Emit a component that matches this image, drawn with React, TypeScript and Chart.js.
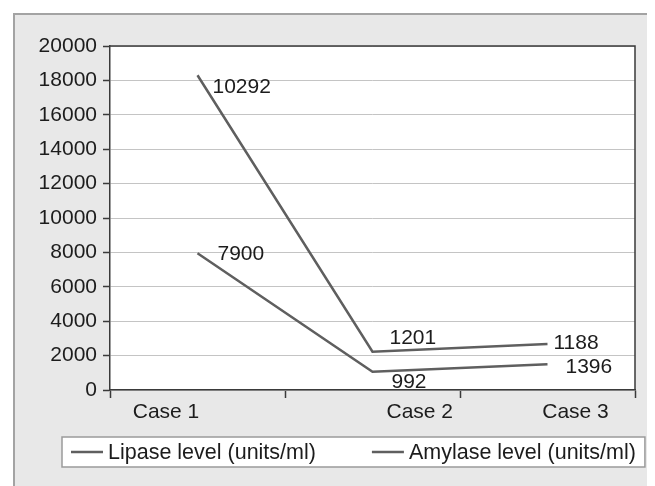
import React, { useEffect, useRef } from 'react';
import { Chart, registerables } from 'chart.js';

Chart.register(...registerables);

// ---- data ----
const categories = ['Case 1', 'Case 2', 'Case 3'];
const seriesNames = ['Lipase level (units/ml)', 'Amylase level (units/ml)'];
const lipaseLevels = [18300, 2230, 2670];
const amylaseLevels = [7950, 1060, 1490];
const lipaseLabels = ['10292', '1201', '1188'];
const amylaseLabels = ['7900', '992', '1396'];
const yMin = 0;
const yMax = 20000;
const yStep = 2000;

// ---- layout / style constants ----
const FONT = '"Liberation Sans", Arial, Helvetica, sans-serif';
const FS = 21;
const LEGEND_FS = 21.5;
const TEXT = '#1c1c1c';
const LINE = '#5f5f5f';
const DARK = '#3a3a3a';
const caseLabelAt = [-0.18, 1.27, 2.16];
const labelShift = [
  [[15, 12], [17, -13], [6, -1]],
  [[20, 1], [19, 10], [18, 3]],
];

const bgPlugin = {
  id: 'bgPlugin',
  beforeDraw(chart: any) {
    const { ctx, chartArea: a, width, height } = chart;
    ctx.save();
    ctx.fillStyle = '#e8e8e8';
    ctx.fillRect(5, 5, width, height);
    ctx.strokeStyle = '#a3a3a3';
    ctx.lineWidth = 2;
    ctx.beginPath();
    ctx.moveTo(6, height + 5);
    ctx.lineTo(6, 6);
    ctx.lineTo(width + 5, 6);
    ctx.stroke();
    ctx.fillStyle = '#ffffff';
    ctx.fillRect(a.left, a.top, a.right - a.left, a.bottom - a.top);
    ctx.restore();
  },
  afterDraw(chart: any) {
    const { ctx, chartArea: a } = chart;
    ctx.save();
    // plot frame top/right
    ctx.strokeStyle = DARK;
    ctx.lineWidth = 1.5;
    ctx.beginPath();
    ctx.moveTo(a.left, a.top);
    ctx.lineTo(a.right, a.top);
    ctx.lineTo(a.right, a.bottom);
    ctx.stroke();

    // data labels
    ctx.font = `${FS}px ${FONT}`;
    ctx.fillStyle = TEXT;
    ctx.textAlign = 'left';
    ctx.textBaseline = 'middle';
    const texts = [lipaseLabels, amylaseLabels];
    chart.data.datasets.forEach((ds: any, di: number) => {
      const meta = chart.getDatasetMeta(di);
      meta.data.forEach((pt: any, i: number) => {
        const [dx, dy] = labelShift[di][i];
        ctx.fillText(texts[di][i], pt.x + dx, pt.y + dy);
      });
    });

    // legend
    ctx.font = `${LEGEND_FS}px ${FONT}`;
    const sampleW = 32;
    const gapSample = 5;
    const gapItems = 56;
    const w = chart.data.datasets.map((ds: any) => ctx.measureText(ds.label).width);
    const content = sampleW + gapSample + w[0] + gapItems + sampleW + gapSample + w[1];
    const boxLeft = 54;
    const boxTop = 429;
    const boxW = content + 9 + 9;
    const boxH = 30;
    ctx.fillStyle = '#ffffff';
    ctx.fillRect(boxLeft, boxTop, boxW, boxH);
    ctx.strokeStyle = '#9a9a9a';
    ctx.lineWidth = 1.5;
    ctx.strokeRect(boxLeft, boxTop, boxW, boxH);
    let x = boxLeft + 9;
    const cy = boxTop + boxH / 2;
    chart.data.datasets.forEach((ds: any, di: number) => {
      ctx.strokeStyle = ds.borderColor;
      ctx.lineWidth = ds.borderWidth;
      ctx.beginPath();
      ctx.moveTo(x, cy);
      ctx.lineTo(x + sampleW, cy);
      ctx.stroke();
      x += sampleW + gapSample;
      ctx.fillStyle = TEXT;
      ctx.fillText(ds.label, x, cy + 1);
      x += w[di] + gapItems;
    });
    ctx.restore();
  },
};

export default function App() {
  const ref = useRef<HTMLCanvasElement | null>(null);
  useEffect(() => {
    if (!ref.current) return;
    const chart = new Chart(ref.current, {
      type: 'line',
      data: {
        labels: categories,
        datasets: [
          {
            label: seriesNames[0],
            data: lipaseLevels,
            borderColor: LINE,
            borderWidth: 2.5,
            pointRadius: 0,
            tension: 0,
            fill: false,
          },
          {
            label: seriesNames[1],
            data: amylaseLevels,
            borderColor: LINE,
            borderWidth: 2.5,
            pointRadius: 0,
            tension: 0,
            fill: false,
          },
        ],
      },
      options: {
        animation: false,
        responsive: false,
        maintainAspectRatio: false,
        layout: { padding: { top: 38, right: 20, bottom: 58, left: 0 } },
        plugins: {
          legend: { display: false },
          tooltip: { enabled: false },
          title: { display: false },
        },
        scales: {
          x: {
            type: 'category',
            offset: true,
            grid: {
              display: true,
              drawOnChartArea: false,
              offset: true,
              tickLength: 8,
              tickColor: DARK,
              tickWidth: 1.5,
            },
            border: { color: DARK, width: 1.5 },
            ticks: { display: false },
            afterFit: (s: any) => {
              s.height = 8;
            },
          },
          xl: {
            type: 'linear',
            position: 'bottom',
            min: -0.5,
            max: 2.5,
            grid: { display: false, drawTicks: false },
            border: { display: false },
            afterBuildTicks: (s: any) => {
              s.ticks = caseLabelAt.map((v) => ({ value: v }));
            },
            ticks: {
              autoSkip: false,
              maxRotation: 0,
              padding: 2,
              color: TEXT,
              font: { family: FONT, size: FS },
              callback: (_v: any, i: number) => categories[i],
            },
            afterFit: (s: any) => {
              s.height = 30;
            },
          },
          y: {
            min: yMin,
            max: yMax,
            ticks: {
              stepSize: yStep,
              padding: 6,
              color: TEXT,
              font: { family: FONT, size: FS },
              callback: (v: any) => String(v),
            },
            grid: {
              color: '#c4c4c4',
              lineWidth: 1,
              tickLength: 7,
              tickColor: DARK,
              tickWidth: 1.5,
            },
            border: { color: DARK, width: 1.5 },
            afterFit: (s: any) => {
              s.width = 102;
            },
          },
        },
      },
      plugins: [bgPlugin],
    });
    return () => chart.destroy();
  }, []);
  return (
    <canvas
      ref={ref}
      width={647}
      height={478}
      style={{ display: 'block', width: 647, height: 478 }}
    />
  );
}
